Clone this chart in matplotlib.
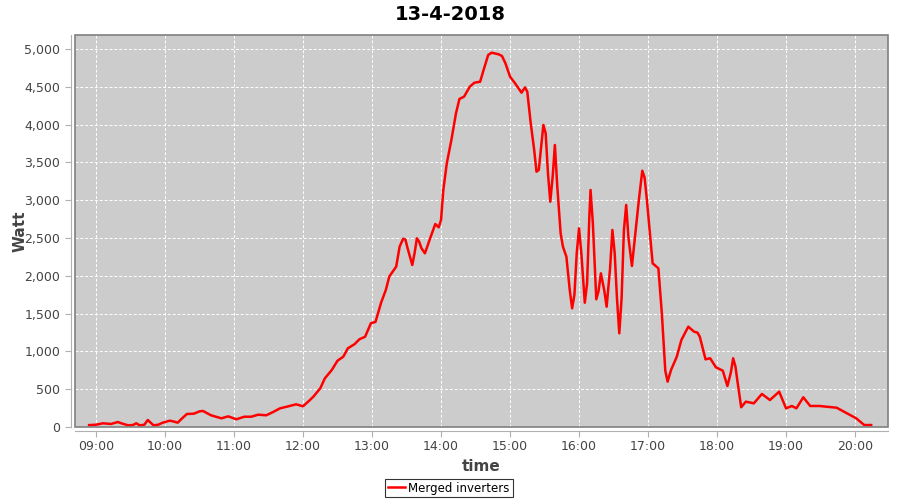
import matplotlib
matplotlib.use("Agg")
import matplotlib.pyplot as plt
from matplotlib.patches import Rectangle
from matplotlib.ticker import FuncFormatter, MultipleLocator

# readings of the merged inverters, time of day and power in W
times = ["08:54", "09:00", "09:06", "09:13", "09:19", "09:22", "09:28", "09:32",
         "09:35", "09:38", "09:42", "09:45", "09:50", "09:54", "09:58", "10:04",
         "10:07", "10:11", "10:14", "10:19", "10:25", "10:30", "10:33", "10:40",
         "10:49", "10:55", "11:02", "11:09", "11:15", "11:21", "11:28", "11:34",
         "11:40", "11:46", "11:54", "12:00", "12:06", "12:09", "12:15", "12:19",
         "12:25", "12:30", "12:35", "12:39", "12:45", "12:49", "12:54", "12:59",
         "13:03", "13:08", "13:12", "13:15", "13:21", "13:24", "13:27", "13:29",
         "13:31", "13:35", "13:37", "13:39", "13:41", "13:43", "13:46", "13:50",
         "13:55", "13:58", "14:00", "14:02", "14:05", "14:09", "14:13", "14:16",
         "14:20", "14:25", "14:29", "14:34", "14:37", "14:41", "14:44", "14:50",
         "14:53", "14:56", "15:00", "15:04", "15:10", "15:13", "15:15", "15:18",
         "15:21", "15:23", "15:25", "15:27", "15:29", "15:31", "15:33", "15:35",
         "15:37", "15:39", "15:41", "15:44", "15:46", "15:49", "15:52", "15:54",
         "15:56", "15:58", "16:00", "16:02", "16:05", "16:07", "16:09", "16:10",
         "16:12", "16:15", "16:17", "16:19", "16:22", "16:24", "16:27", "16:29",
         "16:31", "16:33", "16:35", "16:37", "16:39", "16:41", "16:43", "16:46",
         "16:49", "16:52", "16:55", "16:57", "16:59", "17:04", "17:09", "17:12",
         "17:15", "17:17", "17:20", "17:25", "17:29", "17:35", "17:40", "17:43",
         "17:45", "17:50", "17:54", "17:59", "18:05", "18:09", "18:12", "18:14",
         "18:16", "18:18", "18:21", "18:25", "18:32", "18:39", "18:46", "18:54",
         "19:00", "19:05", "19:09", "19:15", "19:21", "19:29", "19:35", "19:44",
         "19:53", "20:01", "20:08", "20:14"]
watt = [25, 30, 49, 40, 66, 49, 22, 26,
        49, 22, 30, 93, 22, 30, 57, 83,
        75, 57, 102, 172, 176, 207, 212, 155,
        115, 141, 102, 136, 136, 163, 155, 198,
        247, 269, 300, 274, 357, 401, 512, 644,
        754, 877, 930, 1041, 1098, 1160, 1194, 1372,
        1390, 1650, 1812, 1990, 2121, 2385, 2490, 2480,
        2360, 2143, 2300, 2496, 2450, 2364, 2297, 2473,
        2685, 2641, 2738, 3135, 3488, 3796, 4149, 4339,
        4369, 4501, 4554, 4567, 4722, 4921, 4951, 4930,
        4907, 4811, 4634, 4554, 4422, 4492, 4435, 4017,
        3664, 3377, 3400, 3700, 3995, 3884, 3350, 2980,
        3300, 3730, 3200, 2562, 2385, 2253, 1800, 1570,
        1750, 2300, 2628, 2300, 1644, 1900, 2800, 3135,
        2700, 1689, 1800, 2033, 1800, 1591, 2100, 2606,
        2300, 1700, 1239, 1700, 2600, 2937, 2500, 2130,
        2562, 3000, 3390, 3300, 3003, 2165, 2099, 1504,
        745, 600, 754, 930, 1151, 1327, 1261, 1248,
        1194, 895, 909, 790, 745, 542, 720, 909,
        800, 578, 261, 335, 313, 437, 357, 467,
        247, 278, 247, 393, 278, 278, 269, 255,
        181, 115, 26, 26]


def to_hours(t):
    h, m = t.split(":")
    return int(h) + int(m) / 60.0


x = [to_hours(t) for t in times]

fig = plt.figure(figsize=(9, 5), dpi=100)
ax = fig.add_axes([0.0833, 0.146, 0.9034, 0.784])
ax.set_facecolor("#cccccc")

ax.plot(x, watt, color="#ff0000", lw=1.8, label="Merged inverters", zorder=3)

ax.set_xlim(8.695, 20.478)
ax.set_ylim(0, 5185)

ax.xaxis.set_major_locator(MultipleLocator(1))
ax.xaxis.set_major_formatter(FuncFormatter(lambda v, p: "%02d:00" % round(v)))
ax.yaxis.set_major_locator(MultipleLocator(500))
ax.yaxis.set_major_formatter(FuncFormatter(lambda v, p: "{:,.0f}".format(v)))

ax.grid(True, color="white", linestyle=(0, (3, 2)), linewidth=0.7)
ax.set_axisbelow(True)

for s in ("top", "right"):
    ax.spines[s].set_visible(False)
for s in ("left", "bottom"):
    ax.spines[s].set_position(("outward", 3))
    ax.spines[s].set_color("#b0b0b0")
ax.add_patch(Rectangle((0, 0), 1, 1, transform=ax.transAxes, fill=False,
                       edgecolor="#808080", lw=1.2, clip_on=False, zorder=4))

ax.tick_params(colors="#b0b0b0", labelcolor="#444444", labelsize=9, length=4)
ax.tick_params(axis="x", pad=2)
ax.set_xlabel("time", fontsize=11, fontweight="bold", color="#444444")
ax.set_ylabel("Watt", fontsize=11, fontweight="bold", color="#444444")
ax.xaxis.set_label_coords(0.5, -0.082)
ax.yaxis.set_label_coords(-0.058, 0.5)

fig.suptitle("13-4-2018", fontsize=14, fontweight="bold", y=0.99)

leg = fig.legend(loc="lower center", bbox_to_anchor=(0.499, -0.002), fontsize=8.5,
                 frameon=True, fancybox=False, handlelength=1.4, handletextpad=0.3,
                 borderpad=0.25, borderaxespad=0.3)
leg.get_frame().set_edgecolor("black")
leg.get_frame().set_linewidth(0.8)

fig.savefig("out.png", dpi=100)
